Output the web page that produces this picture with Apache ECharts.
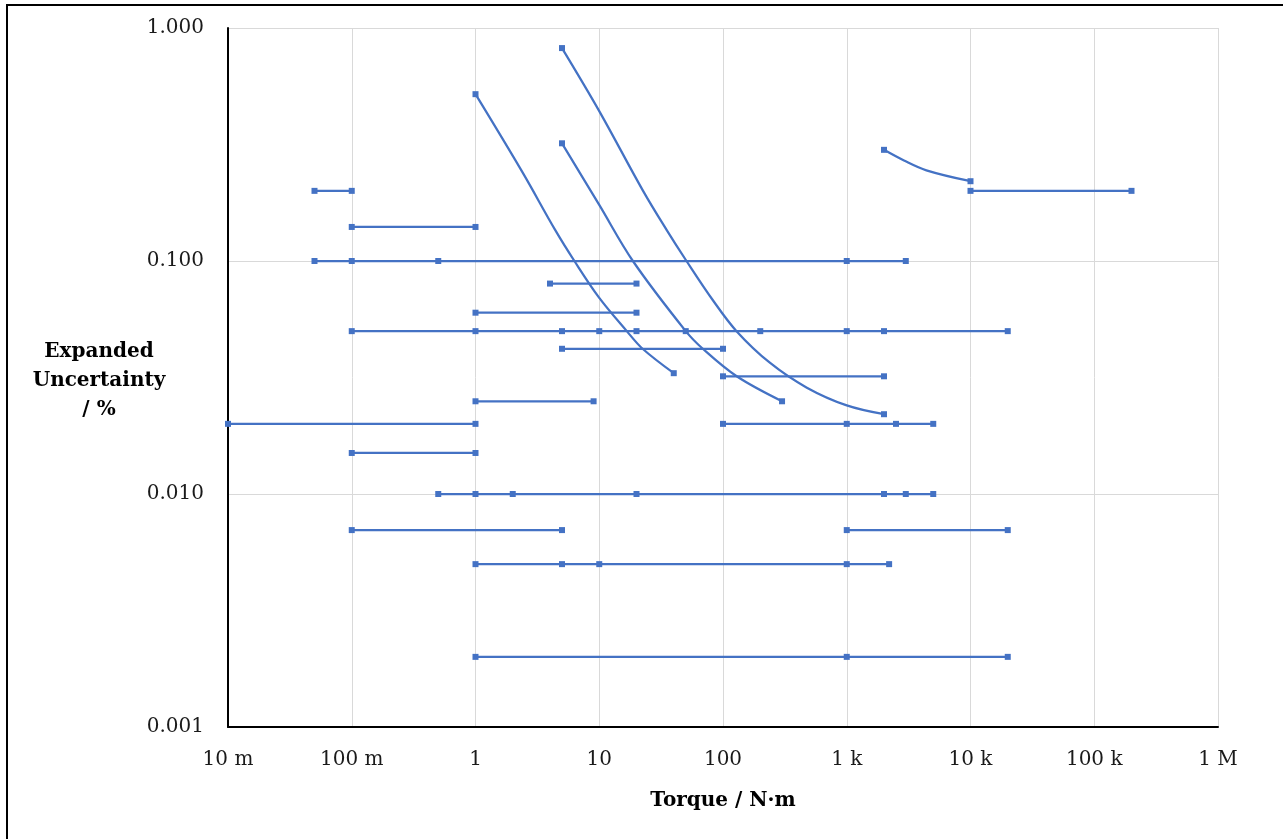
<!DOCTYPE html>
<html>
<head>
<meta charset="utf-8">
<title>Torque uncertainty</title>
<script src="https://cdn.jsdelivr.net/npm/echarts@6/dist/echarts.min.js"></script>
<style>
  html, body { margin: 0; padding: 0; background: #fff; }
  #chart { width: 1283px; height: 839px; }
</style>
</head>
<body>
<div id="chart"></div>
<script>
// tick labels of the torque axis (10 m .. 1 M)
var xTickLabels = ['10 m', '100 m', '1', '10', '100', '1 k', '10 k', '100 k', '1 M'];

// flat ranges: uncertainty level (%) and the torque points (N·m) that carry a marker
var flatLevels = [0.2, 0.14, 0.1, 0.08, 0.06, 0.05, 0.042, 0.032, 0.025, 0.02, 0.02, 0.015, 0.01, 0.007, 0.007, 0.005, 0.002, 0.2];
var flatTorques = [
    [0.05, 0.1],
    [0.1, 1],
    [0.05, 0.1, 0.5, 1000, 3000],
    [4, 20],
    [1, 20],
    [0.1, 1, 5, 10, 20, 50, 200, 1000, 2000, 20000],
    [5, 100],
    [100, 2000],
    [1, 9],
    [0.01, 1],
    [100, 1000, 2500, 5000],
    [0.1, 1],
    [0.5, 1, 2, 20, 2000, 3000, 5000],
    [0.1, 5],
    [1000, 20000],
    [1, 5, 10, 1000, 2200],
    [1, 1000, 20000],
    [10000, 200000]
];

// curved ranges (markers only at both ends)
var curveATorque = [1, 2.4, 4.4, 6.3, 9.9, 16.7, 22.4, 40];
var curveAUnc    = [0.52, 0.24, 0.136, 0.10, 0.07, 0.05, 0.042, 0.033];
var curveBTorque = [5, 10, 18.7, 50, 68.7, 129, 300];
var curveBUnc    = [0.32, 0.174, 0.10, 0.05, 0.042, 0.032, 0.025];
var curveCTorque = [5, 10, 22.6, 35, 50.7, 82.6, 128.6, 239, 476, 1000, 2000];
var curveCUnc    = [0.82, 0.44, 0.2, 0.136, 0.10, 0.068, 0.05, 0.0366, 0.0286, 0.024, 0.022];
var curveDTorque = [2000, 2900, 4400, 10000];
var curveDUnc    = [0.30, 0.27, 0.245, 0.22];

var blue = '#4472C4';
var font = 'DejaVu Serif';

var series = [];
flatLevels.forEach(function (level, i) {
    series.push({
        type: 'line',
        data: flatTorques[i].map(function (t) { return [t, level]; }),
        symbol: 'rect',
        symbolSize: 6,
        lineStyle: { color: blue, width: 2.25 },
        itemStyle: { color: blue },
        silent: true
    });
});

[[curveATorque, curveAUnc], [curveBTorque, curveBUnc], [curveCTorque, curveCUnc], [curveDTorque, curveDUnc]].forEach(function (c) {
    var xs = c[0], ys = c[1];
    series.push({
        type: 'line',
        smooth: 0.35,
        data: xs.map(function (t, k) {
            return { value: [t, ys[k]], symbol: (k === 0 || k === xs.length - 1) ? 'rect' : 'none' };
        }),
        symbol: 'rect',
        symbolSize: 6,
        showAllSymbol: true,
        lineStyle: { color: blue, width: 2.25 },
        itemStyle: { color: blue },
        silent: true
    });
});

var myChart = echarts.init(document.getElementById('chart'));
var option = {
    animation: false,
    backgroundColor: '#fff',
    grid: { left: 228, top: 28, right: 65, bottom: 112, containLabel: false },
    graphic: [{
        type: 'rect',
        shape: { x: 7, y: 5, width: 1400, height: 1000 },
        style: { fill: 'none', stroke: '#000', lineWidth: 2 },
        silent: true
    }, {
        // y axis title
        type: 'text',
        x: 99,
        y: 381,
        style: {
            text: 'Expanded\nUncertainty\n/ %',
            fontFamily: font,
            fontWeight: 'bold',
            fontSize: 20,
            lineHeight: 29,
            fill: '#000',
            align: 'center',
            verticalAlign: 'middle'
        },
        silent: true
    }],
    xAxis: {
        type: 'log',
        logBase: 10,
        min: 0.01,
        max: 1000000,
        name: 'Torque / N·m',
        nameLocation: 'middle',
        nameGap: 64,
        nameTextStyle: { fontFamily: font, fontWeight: 'bold', fontSize: 20, color: '#000' },
        axisLine: { show: true, lineStyle: { color: '#000', width: 2 } },
        axisTick: { show: false },
        splitLine: { show: true, lineStyle: { color: '#d9d9d9', width: 1 } },
        minorTick: { show: false },
        axisLabel: {
            margin: 23,
            fontFamily: font,
            fontSize: 20,
            color: '#1a1a1a',
            formatter: function (v) {
                return xTickLabels[Math.round(Math.log10(v)) + 2];
            }
        }
    },
    yAxis: {
        type: 'log',
        logBase: 10,
        min: 0.001,
        max: 1,
        axisLine: { show: true, lineStyle: { color: '#000', width: 2 } },
        axisTick: { show: false },
        splitLine: { show: true, lineStyle: { color: '#d9d9d9', width: 1 } },
        axisLabel: {
            margin: 24,
            fontFamily: font,
            fontSize: 20,
            color: '#1a1a1a',
            formatter: function (v) { return v.toFixed(3); }
        }
    },
    series: series
};
myChart.setOption(option);
</script>
</body>
</html>
